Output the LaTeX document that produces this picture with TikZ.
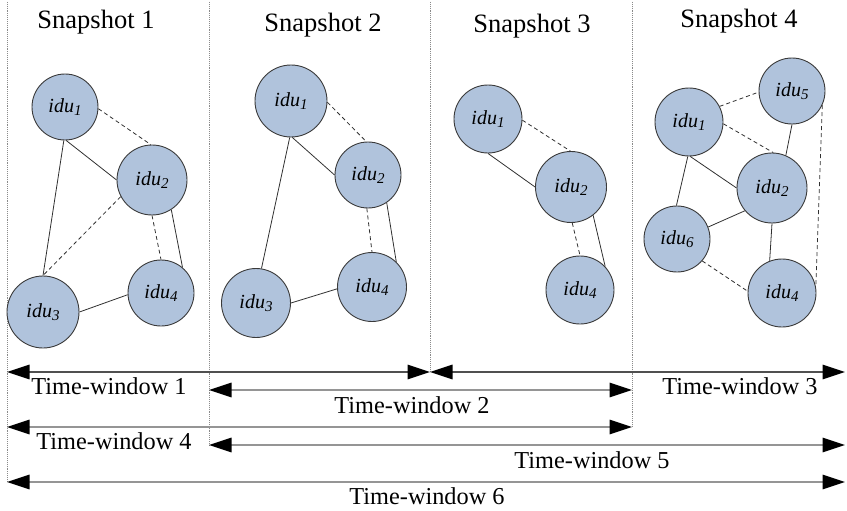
\documentclass[tikz,border=0pt]{standalone}
\usepackage{fontspec}
\setmainfont{Liberation Serif}
\usetikzlibrary{arrows.meta}
\definecolor{nodefill}{HTML}{B0C3DC}
\definecolor{nodeline}{HTML}{3A3A3A}
\definecolor{edgecol}{HTML}{303030}
\definecolor{sepcol}{HTML}{8A8A8A}
\definecolor{arrcol}{HTML}{959595}
\definecolor{arrdark}{HTML}{505050}
\newcommand{\iduL}[1]{\textit{idu}\raisebox{-0.32ex}{\fontsize{15}{15}\selectfont\textit{#1}}}
\tikzset{
  idu/.style={circle, draw=nodeline, line width=0.9pt, fill=nodefill, minimum size=#1, inner sep=0pt, font=\fontsize{20}{22}\selectfont},
  esolid/.style={draw=edgecol, line width=0.8pt},
  edash/.style={draw=edgecol, line width=0.8pt, dash pattern=on 4pt off 3pt},
  sepline/.style={draw=sepcol, line width=0.9pt, densely dotted},
  twarrow/.style={draw=arrcol, line width=1.6pt, arrows={Triangle[length=22.5pt,width=14.5pt,color=black]-Triangle[length=22.5pt,width=14.5pt,color=black]}},
  snaplab/.style={anchor=base, font=\fontsize{26.5}{30}\selectfont, inner sep=0pt},
  twlab/.style={anchor=base, font=\fontsize{24.3}{28}\selectfont, inner sep=0pt}
}
\begin{document}
\begin{tikzpicture}[x=1pt,y=-1pt]
\useasboundingbox (0,0) rectangle (847,511);
% separators
\coordinate (v1t) at (7,2);   \coordinate (v1b) at (7,482);
\coordinate (v2t) at (209,2); \coordinate (v2b) at (209,445);
\coordinate (v3t) at (430,2); \coordinate (v3b) at (430,372);
\coordinate (v4t) at (632,2); \coordinate (v4b) at (632,427);
\draw[sepline] (v1t) -- (v1b);
\draw[sepline] (v2t) -- (v2b);
\draw[sepline] (v3t) -- (v3b);
\draw[sepline] (v4t) -- (v4b);
% titles
\node[snaplab] (t1) at (96,29) {Snapshot 1};
\node[snaplab] (t2) at (323,32) {Snapshot 2};
\node[snaplab] (t3) at (532,33) {Snapshot 3};
\node[snaplab] (t4) at (739,28) {Snapshot 4};
% snapshot 1
\node[idu=66pt] (a1) at (65,107) {\iduL{1}};
\node[idu=70pt] (a2) at (152,180) {\iduL{2}};
\node[idu=72pt] (a3) at (43,312) {\iduL{3}};
\node[idu=66pt] (a4) at (161,293) {\iduL{4}};
\draw[edash] (a1.-3) -- (a2.92);
\draw[esolid] (a1.-88) -- (a2.180);
\draw[esolid] (a1.-92) -- (a3.90);
\draw[edash] (a2.208) -- (a3.90);
\draw[edash] (a2.-90) -- (a4.90);
\draw[esolid] (a2.-57) -- (a4.50);
\draw[esolid] (a3.0) -- (a4.183);
% snapshot 2
\node[idu=72pt] (b1) at (291,101) {\iduL{1}};
\node[idu=66pt] (b2) at (368,175) {\iduL{2}};
\node[idu=69pt] (b3) at (256,303) {\iduL{3}};
\node[idu=69pt] (b4) at (372,287) {\iduL{4}};
\draw[edash] (b1.-2) -- (b2.93);
\draw[esolid] (b1.-88) -- (b2.180);
\draw[esolid] (b1.-92) -- (b3.81);
\draw[edash] (b2.-92) -- (b4.90);
\draw[esolid] (b2.-56) -- (b4.46);
\draw[esolid] (b3.0) -- (b4.183);
% snapshot 3
\node[idu=68pt] (c1) at (488,119) {\iduL{1}};
\node[idu=71pt] (c2) at (571,187) {\iduL{2}};
\node[idu=68pt] (c4) at (580,290) {\iduL{4}};
\draw[edash] (c1.-2) -- (c2.91);
\draw[esolid] (c1.-90) -- (c2.180);
\draw[edash] (c2.-88) -- (c4.90);
\draw[esolid] (c2.-52) -- (c4.43);
% snapshot 4
\node[idu=68pt] (d1) at (689,122) {\iduL{1}};
\node[idu=66pt] (d5) at (792,91) {\iduL{5}};
\node[idu=70pt] (d2) at (772,188) {\iduL{2}};
\node[idu=66pt] (d6) at (677,239) {\iduL{6}};
\node[idu=68pt] (d4) at (782,293) {\iduL{4}};
\draw[edash] (d1.27) -- (d5.182);
\draw[edash] (d1.-3) -- (d2.88);
\draw[esolid] (d1.-88) -- (d2.180);
\draw[esolid] (d5.-90) -- (d2.67);
\draw[esolid] (d1.-92) -- (d6.91);
\draw[esolid] (d6.21) -- (d2.220);
\draw[esolid] (d2.-90) -- (d4.111);
\draw[edash] (d6.-41) -- (d4.177);
\draw[edash] (d5.-25) -- (d4.11);
% time-window arrows
\coordinate (r1a) at (7,372);   \coordinate (r1b) at (430,372);  \coordinate (r1c) at (845,372);
\coordinate (r2a) at (209,390); \coordinate (r2b) at (632,390);
\coordinate (r3a) at (7,427);   \coordinate (r3b) at (632,427);
\coordinate (r4a) at (209,445); \coordinate (r4b) at (845,445);
\coordinate (r5a) at (7,482);   \coordinate (r5b) at (845,482);
\draw[twarrow, draw=arrdark] (r1a) -- (r1b);
\draw[twarrow, draw=arrdark] (r1b) -- (r1c);
\draw[twarrow] (r2a) -- (r2b);
\draw[twarrow] (r3a) -- (r3b);
\draw[twarrow] (r4a) -- (r4b);
\draw[twarrow] (r5a) -- (r5b);
% labels
\node[twlab] (w1) at (109,394) {Time-window 1};
\node[twlab] (w2) at (412,413) {Time-window 2};
\node[twlab] (w3) at (740,394) {Time-window 3};
\node[twlab] (w4) at (114,449) {Time-window 4};
\node[twlab] (w5) at (592,468) {Time-window 5};
\node[twlab] (w6) at (427,504) {Time-window 6};
\end{tikzpicture}
\end{document}
